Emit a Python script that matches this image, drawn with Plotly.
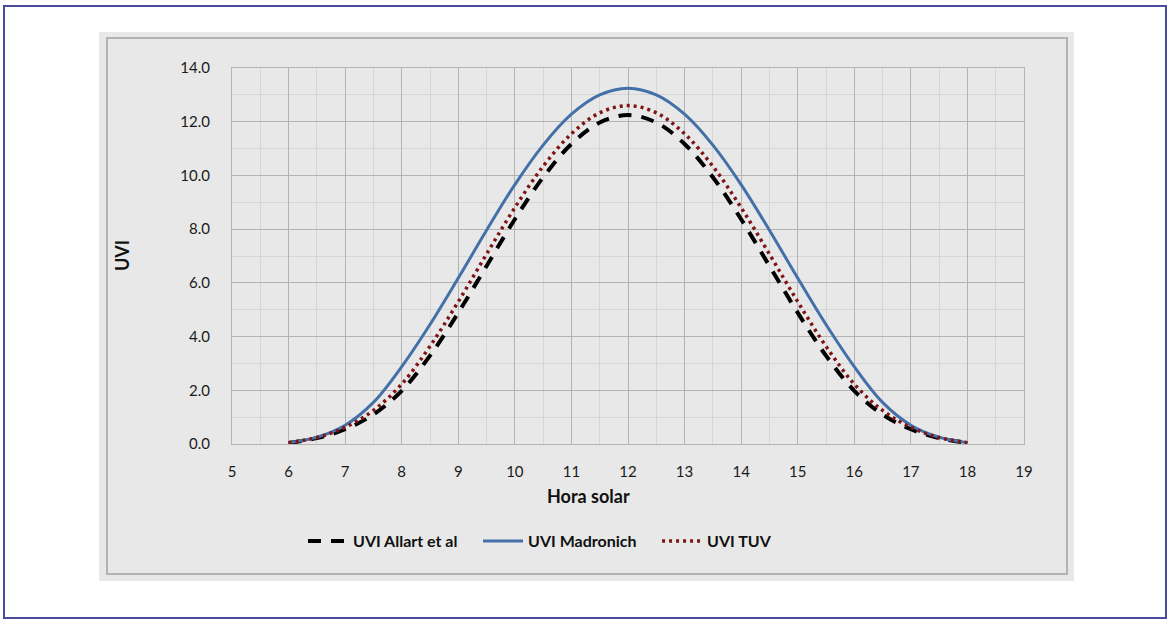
import plotly.graph_objects as go

# hora solar (half-hour steps)
hora = [6, 6.5, 7, 7.5, 8, 8.5, 9, 9.5, 10, 10.5, 11, 11.5, 12,
        12.5, 13, 13.5, 14, 14.5, 15, 15.5, 16, 16.5, 17, 17.5, 18]

# values
uvi_madronich = [0.05, 0.25, 0.70, 1.55, 2.88, 4.45, 6.18, 7.96, 9.66, 11.13, 12.28, 13.00, 13.25,
                 13.00, 12.28, 11.13, 9.66, 7.96, 6.18, 4.45, 2.88, 1.55, 0.70, 0.25, 0.05]
uvi_tuv = [0.05, 0.24, 0.62, 1.25, 2.23, 3.64, 5.30, 7.07, 8.80, 10.34, 11.55, 12.33, 12.60,
           12.33, 11.55, 10.34, 8.80, 7.07, 5.30, 3.64, 2.23, 1.25, 0.62, 0.24, 0.05]
uvi_allart = [0.04, 0.22, 0.55, 1.10, 1.98, 3.29, 4.89, 6.63, 8.37, 9.93, 11.17, 11.97, 12.25,
              11.97, 11.17, 9.93, 8.37, 6.63, 4.89, 3.29, 1.98, 1.10, 0.55, 0.22, 0.04]

x_ticks = list(range(5, 20))
y_ticks = [0, 2, 4, 6, 8, 10, 12, 14]

W, H = 1168, 619
L, R, T, B = 232, 1024, 68, 444   # plot area in pixels

def px(x):
    return (x - L) / (R - L)

def py(y):
    return (B - y) / (B - T)

FONT = "Lato"
SP = "&nbsp;" * 4

fig = go.Figure()

fig.add_trace(go.Scatter(x=hora, y=uvi_allart, name="UVI Allart et al" + SP, mode="lines",
                         line=dict(color="black", width=4, dash="13px,10px", shape="spline")))
fig.add_trace(go.Scatter(x=hora, y=uvi_madronich, name="UVI Madronich" + SP, mode="lines",
                         line=dict(color="#4470a8", width=3, shape="spline")))
fig.add_trace(go.Scatter(x=hora, y=uvi_tuv, name="UVI TUV", mode="lines",
                         line=dict(color="#7f1414", width=3.5, dash="3px,4px", shape="spline")))

shapes = [
    # outer purple frame
    dict(type="rect", xref="paper", yref="paper", x0=px(4), x1=px(1166), y0=py(618), y1=py(6),
         line=dict(color="#4b4ba0", width=2), fillcolor="white", layer="below"),
    # grey chart panel
    dict(type="rect", xref="paper", yref="paper", x0=px(99), x1=px(1074), y0=py(581), y1=py(32),
         line=dict(width=0), fillcolor="#e8e8e8", layer="below"),
    dict(type="rect", xref="paper", yref="paper", x0=px(107), x1=px(1067), y0=py(574), y1=py(38),
         line=dict(color="#b3b3b3", width=2), fillcolor="rgba(0,0,0,0)", layer="below"),
]

annotations = [
    dict(text="<b>UVI</b>", xref="paper", yref="paper", x=px(122), y=py(256), textangle=-90,
         showarrow=False, xanchor="center", yanchor="middle", font=dict(size=18, color="#111")),
    dict(text="<b>Hora solar</b>", xref="paper", yref="paper", x=px(588), y=py(496),
         showarrow=False, xanchor="center", yanchor="middle", font=dict(size=18, color="#111")),
]

fig.update_layout(
    width=W, height=H,
    margin=dict(l=L, r=W - R, t=T, b=H - B),
    paper_bgcolor="white",
    plot_bgcolor="#e8e8e8",
    font=dict(family=FONT, size=14, color="#222"),
    shapes=shapes,
    annotations=annotations,
    showlegend=True,
    legend=dict(orientation="h", x=px(540), y=py(541), xanchor="center", yanchor="middle",
                bgcolor="rgba(0,0,0,0)",
                font=dict(size=16, color="#111", family=FONT, weight="bold"),
                itemwidth=40, tracegroupgap=0),
)

fig.update_xaxes(range=[5, 19], tickvals=x_ticks, showgrid=True, gridcolor="#b3b3b3", gridwidth=1,
                 minor=dict(dtick=0.5, showgrid=True, gridcolor="#d6d6d6", gridwidth=1),
                 showline=True, linecolor="#b3b3b3", mirror=True, zeroline=False,
                 ticklabelstandoff=14, tickfont=dict(size=15, color="#1a1a1a"))
fig.update_yaxes(range=[0, 14], tickvals=y_ticks, tickformat=".1f", showgrid=True,
                 gridcolor="#b3b3b3", gridwidth=1,
                 minor=dict(dtick=1, showgrid=True, gridcolor="#d6d6d6", gridwidth=1),
                 showline=True, linecolor="#b3b3b3", mirror=True, zeroline=False,
                 ticklabelstandoff=18, tickfont=dict(size=15, color="#1a1a1a"))

fig.write_html("out.html", config={"displayModeBar": False},
               post_script="document.body.style.margin='0';document.body.style.overflow='hidden';")
